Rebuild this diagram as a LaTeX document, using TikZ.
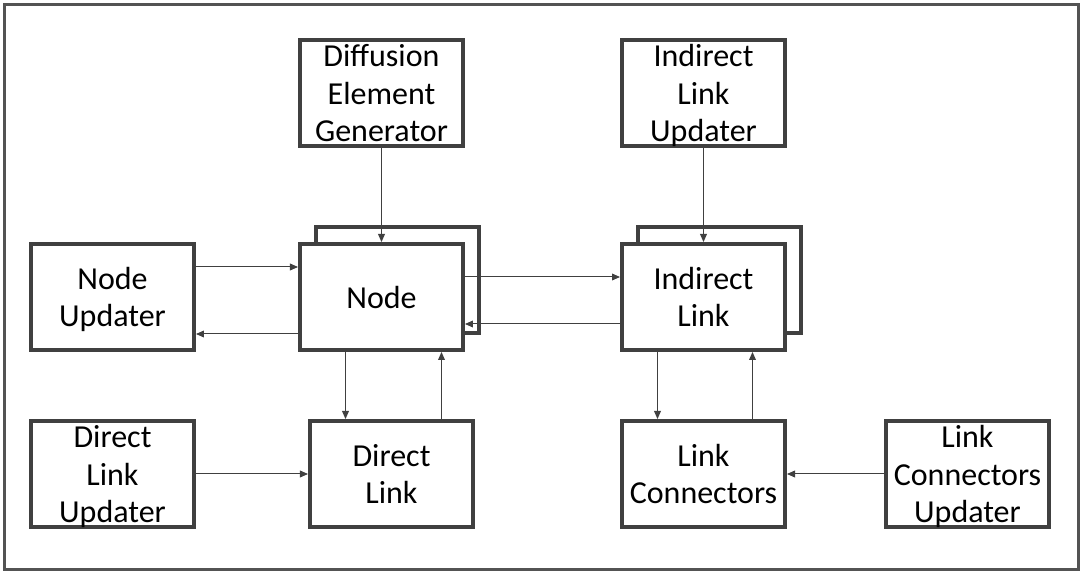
\documentclass[tikz,border=0pt]{standalone}
\usepackage{fontspec}
\setmainfont{Carlito}
\usetikzlibrary{arrows.meta,positioning,backgrounds,shadows}
\definecolor{linegray}{HTML}{404040}

\begin{document}
\begin{tikzpicture}[node distance=47pt, every node/.style={font=\fontsize{16pt}{18.8pt}\selectfont}, box/.style={draw=linegray, line width=1.8pt, fill=white, align=center, minimum width=81.7pt, minimum height=53.2pt, inner sep=1pt, text depth=0pt, drop shadow={shadow xshift=0.8pt, shadow yshift=-0.8pt, fill=black, opacity=0.18}}, frame/.style={draw=linegray!90, line width=1.5pt}, arrow/.style={-{Triangle[length=4pt,width=3.4pt]}, draw=linegray, line width=0.5pt}]
\useasboundingbox (-190.75pt,-140pt) rectangle (352.75pt,148.5pt);
\draw[frame] (-188.5pt,-136.5pt) rectangle (348.25pt,146.25pt);
\node[box] (node) at (0,0) {Node};
\node[box, left=51pt of node] (nodeupd) {Node\\Updater};
\node[box, above=of node] (diffgen) {Diffusion\\Element\\Generator};
\node[box, right=77.5pt of node] (indlink) {Indirect\\Link};
\node[box, above=of indlink] (indlinkupd) {Indirect\\Link\\Updater};
\node[box, below=33.5pt of node, xshift=5pt] (dirlink) {Direct\\Link};
\node[box, below=33.5pt of nodeupd] (dirlinkupd) {Direct\\Link\\Updater};
\node[box, below=33.5pt of indlink] (linkconn) {Link\\Connectors};
\node[box, right=48.5pt of linkconn] (linkconnupd) {Link\\Connectors\\Updater};
% stacked copies behind
\begin{scope}[on background layer]
\node[box] (nodeback) at ([shift={(8pt,8.5pt)}]node.center) {};
\node[box] (indlinkback) at ([shift={(8pt,8.5pt)}]indlink.center) {};
\end{scope}
\draw[arrow] (diffgen) -- (node);
\draw[arrow] (indlinkupd) -- (indlink);
\draw[arrow] ([yshift=15pt]nodeupd.east) -- ([yshift=15pt]node.west);
\draw[arrow] ([yshift=-18.5pt]node.west) -- ([yshift=-18.5pt]nodeupd.east);
\draw[arrow] ([yshift=10pt]node.east) -- ([yshift=10pt]indlink.west);
\draw[arrow] ([yshift=-13.5pt]indlink.west) -- ([yshift=-13.5pt]node.east);
\draw[arrow] ([xshift=-18pt]node.south) -- ([xshift=-23pt]dirlink.north);
\draw[arrow] ([xshift=25pt]dirlink.north) -- ([xshift=30pt]node.south);
\draw[arrow] ([xshift=-23pt]indlink.south) -- ([xshift=-23pt]linkconn.north);
\draw[arrow] ([xshift=24.5pt]linkconn.north) -- ([xshift=24.5pt]indlink.south);
\draw[arrow] (dirlinkupd) -- (dirlink);
\draw[arrow] (linkconnupd) -- (linkconn);
\end{tikzpicture}
\end{document}
